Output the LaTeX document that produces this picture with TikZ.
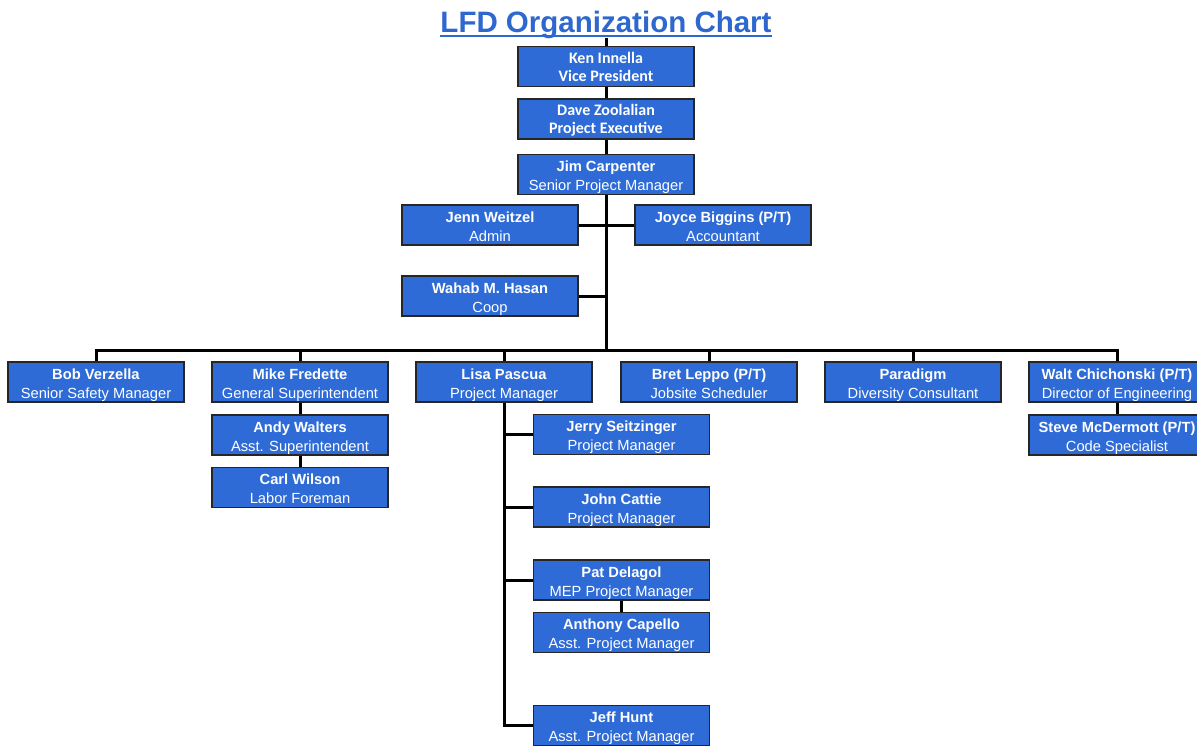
\documentclass[tikz,border=0pt]{standalone}
\usepackage{fontspec}
\newfontfamily\arialf{Liberation Sans}
\newfontfamily\calibrif{Carlito}
\definecolor{boxblue}{RGB}{46,107,214}
\definecolor{titleblue}{RGB}{46,104,206}
\newcommand\bx[2]{\rule{0pt}{17pt}\textbf{#1}\\#2\rule[-4pt]{0pt}{4pt}}
\begin{document}
\begin{tikzpicture}[x=1pt,y=1pt,
  box/.style={draw=black!85, line width=1.3pt, fill=boxblue, minimum width=176pt,
    minimum height=40pt, inner sep=0pt, align=center, text=white,
    font=\arialf\fontsize{14.7}{19}\selectfont},
  topbox/.style={box, font=\calibrif\bfseries\fontsize{16}{18}\selectfont},
  conn/.style={draw=black, line width=3pt}]
\useasboundingbox (0,0) rectangle (1197,-747);
\fill[white] (0,0) rectangle (1197,-747);
% title
\node[anchor=base, inner sep=0pt, text=titleblue, font=\arialf\bfseries\fontsize{29.5}{34}\selectfont] (title) at (606,-32) {LFD Organization Chart};
\draw[titleblue, line width=2.5pt] ([yshift=-4pt]title.base west) -- ([yshift=-4pt]title.base east);
\coordinate (ttop) at ([yshift=-5.5pt]title.base);
% top chain
\node[topbox] (ken) at (606,-66.5) {Ken Innella\\Vice President};
\node[topbox] (dave) at (606,-119) {\rule{0pt}{13pt}Dave Zoolalian\\Project Executive};
\node[box] (jim) at (606,-174.5) {\bx{Jim Carpenter}{Senior Project Manager}};
\node[box] (jenn) at (490,-225) {\bx{Jenn Weitzel}{Admin}};
\node[box] (joyce) at (723,-225) {\bx{Joyce Biggins (P/T)}{Accountant}};
\node[box] (wahab) at (490,-296) {\bx{Wahab M. Hasan}{Coop}};
\coordinate (bus) at (606,-350);
% row 2
\node[box] (bob) at (96,-382) {\bx{Bob Verzella}{Senior Safety Manager}};
\node[box] (mike) at (300,-382) {\bx{Mike Fredette}{General Superintendent}};
\node[box] (lisa) at (504,-382) {\bx{Lisa Pascua}{Project Manager}};
\node[box] (bret) at (709,-382) {\bx{Bret Leppo (P/T)}{Jobsite Scheduler}};
\node[box] (para) at (913,-382) {\bx{Paradigm}{Diversity Consultant}};
\node[box] (walt) at (1117,-382) {\bx{Walt Chichonski (P/T)}{Director of Engineering}};
% under Mike
\node[box] (andy) at (300,-435) {\bx{Andy Walters}{Asst. Superintendent}};
\node[box] (carl) at (300,-487.5) {\bx{Carl Wilson}{Labor Foreman}};
% under Walt
\node[box] (steve) at (1117,-435) {\bx{Steve McDermott (P/T)}{Code Specialist}};
% under Lisa
\node[box] (jerry) at (621.5,-434.5) {\bx{Jerry Seitzinger}{Project Manager}};
\node[box] (john) at (621.5,-507) {\bx{John Cattie}{Project Manager}};
\node[box] (pat) at (621.5,-580) {\bx{Pat Delagol}{MEP Project Manager}};
\node[box] (tony) at (621.5,-632.5) {\bx{Anthony Capello}{Asst. Project Manager}};
\node[box] (jeff) at (621.5,-725.5) {\bx{Jeff Hunt}{Asst. Project Manager}};
% connectors
\path[conn] (ttop) -- (ken.north);
\path[conn] (ken.south) -- (dave.north);
\path[conn] (dave.south) -- (jim.north);
\path[conn] (jim.south) -- (bus);
\path[conn] (jenn.east) -- (joyce.west);
\path[conn] (wahab.east) -- (wahab.east -| bus);
\path[conn] (bob.north) |- (bus) -| (walt.north);
\path[conn] (mike.north) -- (mike.north |- bus);
\path[conn] (lisa.north) -- (lisa.north |- bus);
\path[conn] (bret.north) -- (bret.north |- bus);
\path[conn] (para.north) -- (para.north |- bus);
\path[conn] (mike.south) -- (andy.north);
\path[conn] (andy.south) -- (carl.north);
\path[conn] (walt.south) -- (steve.north);
\path[conn] (lisa.south) |- (jeff.west);
\path[conn] (lisa.south |- jerry.west) -- (jerry.west);
\path[conn] (lisa.south |- john.west) -- (john.west);
\path[conn] (lisa.south |- pat.west) -- (pat.west);
\path[conn] (pat.south) -- (tony.north);
\end{tikzpicture}
\end{document}
